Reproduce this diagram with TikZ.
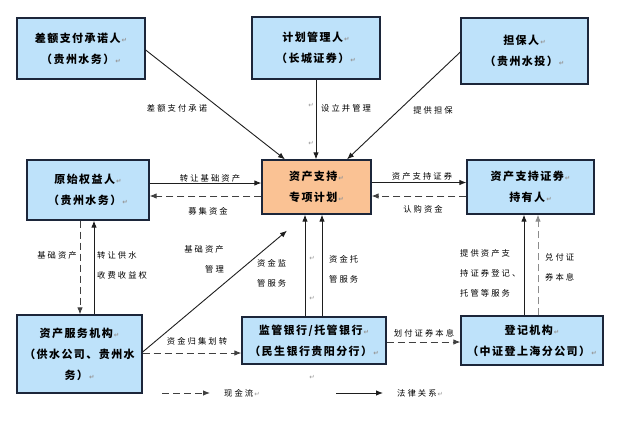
\documentclass[tikz,border=0pt]{standalone}
\usepackage{fontspec}
\newfontfamily\cjk{Noto Sans CJK SC}[LetterSpace=13]
\newfontfamily\cjkl{Noto Sans CJK SC}[LetterSpace=25]
\newfontfamily\symf{DejaVu Sans}
\usetikzlibrary{arrows.meta,calc}
\definecolor{boxblue}{RGB}{190,226,250}
\definecolor{boxorange}{RGB}{250,194,148}
\definecolor{edgecol}{RGB}{28,38,58}
\definecolor{linecol}{RGB}{30,30,30}
\definecolor{markcol}{RGB}{150,150,150}
\newcommand{\parmark}{{\symf\fontsize{6.5}{6.5}\selectfont\color{markcol}\,↵}}
\begin{document}
\begin{tikzpicture}[x=1pt,y=-1pt,
  box/.style={draw=edgecol, line width=1.3pt, fill=boxblue, align=center, inner sep=0pt,
    font=\cjk\bfseries\fontsize{11}{21}\selectfont},
  lbl/.style={font=\cjkl\fontsize{8.3}{20}\selectfont, inner sep=0pt, text=black},
  pmk/.style={font=\symf\fontsize{6.5}{6.5}\selectfont, text=markcol, inner sep=0pt},
  law/.style={-{Latex[length=7pt,width=5.5pt]}, line width=0.9pt, draw=linecol},
  cash/.style={-{Latex[length=7pt,width=5.5pt]}, line width=0.9pt, draw=black!75, dash pattern=on 7pt off 4pt},
  cashg/.style={cash, draw=black!45}
]
\useasboundingbox (0,0) rectangle (625,421);

% boxes
\node[box, minimum width=128pt, minimum height=61pt] (tl) at (81,48.5) {差额支付承诺人\parmark\\（贵州水务）\parmark};
\node[box, minimum width=128pt, minimum height=62pt] (tm) at (316,48) {计划管理人\parmark\\（长城证券）\parmark};
\node[box, minimum width=127pt, minimum height=66pt] (tr) at (524.5,51) {担保人\parmark\\（贵州水投）\parmark};
\node[box, minimum width=122pt, minimum height=60pt] (ml) at (88,190) {原始权益人\parmark\\（贵州水务）\parmark};
\node[box, fill=boxorange, minimum width=109pt, minimum height=54pt] (c) at (316.5,187) {资产支持\parmark\\专项计划\parmark};
\node[box, minimum width=127pt, minimum height=54pt] (mr) at (530.5,187) {资产支持证券\parmark\\持有人\parmark};
\node[box, minimum width=125pt, minimum height=78pt] (bl) at (79.5,354) {资产服务机构\parmark\\（供水公司、贵州水\\务）\parmark};
\node[box, minimum width=144pt, minimum height=47pt] (bm) at (314,340.5) {监管银行/托管银行\parmark\\（民生银行贵阳分行）\parmark};
\node[box, minimum width=142pt, minimum height=49pt] (br) at (532,340.5) {登记机构\parmark\\（中证登上海分公司）\parmark};

% top connectors
\draw[law] ($(tl.east)+(0,1.5)$) -- ($(c.north)+(-31.5,0)$);
\draw[law] (tm.south) -- (tm.south |- c.north);
\draw[law] ($(tr.west)+(0,1)$) -- ($(c.north)+(30.5,0)$);

% middle row
\draw[law] ($(ml.east)+(0,-7)$) coordinate (p1) -- (p1 -| c.west);
\draw[cash] ($(c.west)+(0,9)$) coordinate (p2) -- (p2 -| ml.east);
\draw[law] ($(c.east)+(0,-4.5)$) coordinate (p3) -- (p3 -| mr.west);
\draw[cash] ($(mr.west)+(0,9)$) coordinate (p4) -- (p4 -| c.east);

% left vertical
\draw[cash] ($(ml.south)+(-8,0)$) coordinate (p5) -- (p5 |- bl.north);
\draw[law] ($(bl.north)+(14.5,0)$) coordinate (p6) -- (p6 |- ml.south);

% bottom-left to centre
\coordinate (cend) at ($(c.south)+(-29.5,16)$);
\draw[law] ($(bl.east)+(0,-2)$) -- (cend);
\draw[cash] ($(bl.east)+(0,-1)$) coordinate (p7) -- (p7 -| bm.west);

% bottom middle to centre
\draw[law] ($(bm.north)+(-9,0)$) coordinate (p8) -- (p8 |- c.south);
\draw[law] ($(bm.north)+(8,0)$) coordinate (p9) -- (p9 |- c.south);

% bottom middle to bottom right
\draw[cash] ($(bm.east)+(0,1.5)$) coordinate (p10) -- (p10 -| br.west);

% bottom right to middle right
\draw[law] ($(br.north)+(-8,0)$) coordinate (p11) -- (p11 |- mr.south);
\draw[cashg] ($(br.north)+(6,0)$) coordinate (p12) -- (p12 |- mr.south);

% labels
\node[lbl] (l1) at (177,108) {差额支付承诺};
\node[lbl, anchor=west] (l2) at (321,108) {设立并管理};
\node[lbl] (l3) at (433,110) {提供担保};
\node[lbl] (l4) at (210,178) {转让基础资产};
\node[lbl] (l5) at (208,211) {募集资金};
\node[lbl] (l6) at (422,176) {资产支持证券};
\node[lbl] (l7) at (423,209) {认购资金};
\node[lbl] (l8) at (57,255) {基础资产};
\node[lbl, anchor=west, align=left] (l9) at (97,265) {转让供水\\收费收益权};
\node[lbl, anchor=east, align=right] (l10) at (224,259) {基础资产\\管理};
\node[lbl, anchor=west, align=left] (l11) at (257,273.5) {资金监\\管服务};
\node[lbl, anchor=west, align=left] (l12) at (329,269.5) {资金托\\管服务};
\node[lbl] (l13) at (197,341) {资金归集划转};
\node[lbl] (l14) at (424,333) {划付证券本息};
\node[lbl, anchor=west, align=left] (l15) at (460,273) {提供资产支\\持证券登记、\\托管等服务};
\node[lbl, anchor=west, align=left] (l16) at (545,267.5) {兑付证\\券本息};

% stray paragraph marks
\node[pmk] (m1) at (311,105) {↵};
\node[pmk] (m2) at (311,143) {↵};
\node[pmk] (m3) at (312,258) {↵};
\node[pmk] (m4) at (312,298) {↵};
\node[pmk] (m5) at (312,377) {↵};

% legend
\coordinate (lg1a) at (162,393);
\coordinate (lg1b) at (210,393);
\draw[cash] (lg1a) -- (lg1b);
\node[lbl, anchor=west] (lg1) at (224,393) {现金流\parmark};
\coordinate (lg2a) at (336,393);
\coordinate (lg2b) at (383,393);
\draw[law] (lg2a) -- (lg2b);
\node[lbl, anchor=west] (lg2) at (397,393) {法律关系\parmark};
\end{tikzpicture}
\end{document}
